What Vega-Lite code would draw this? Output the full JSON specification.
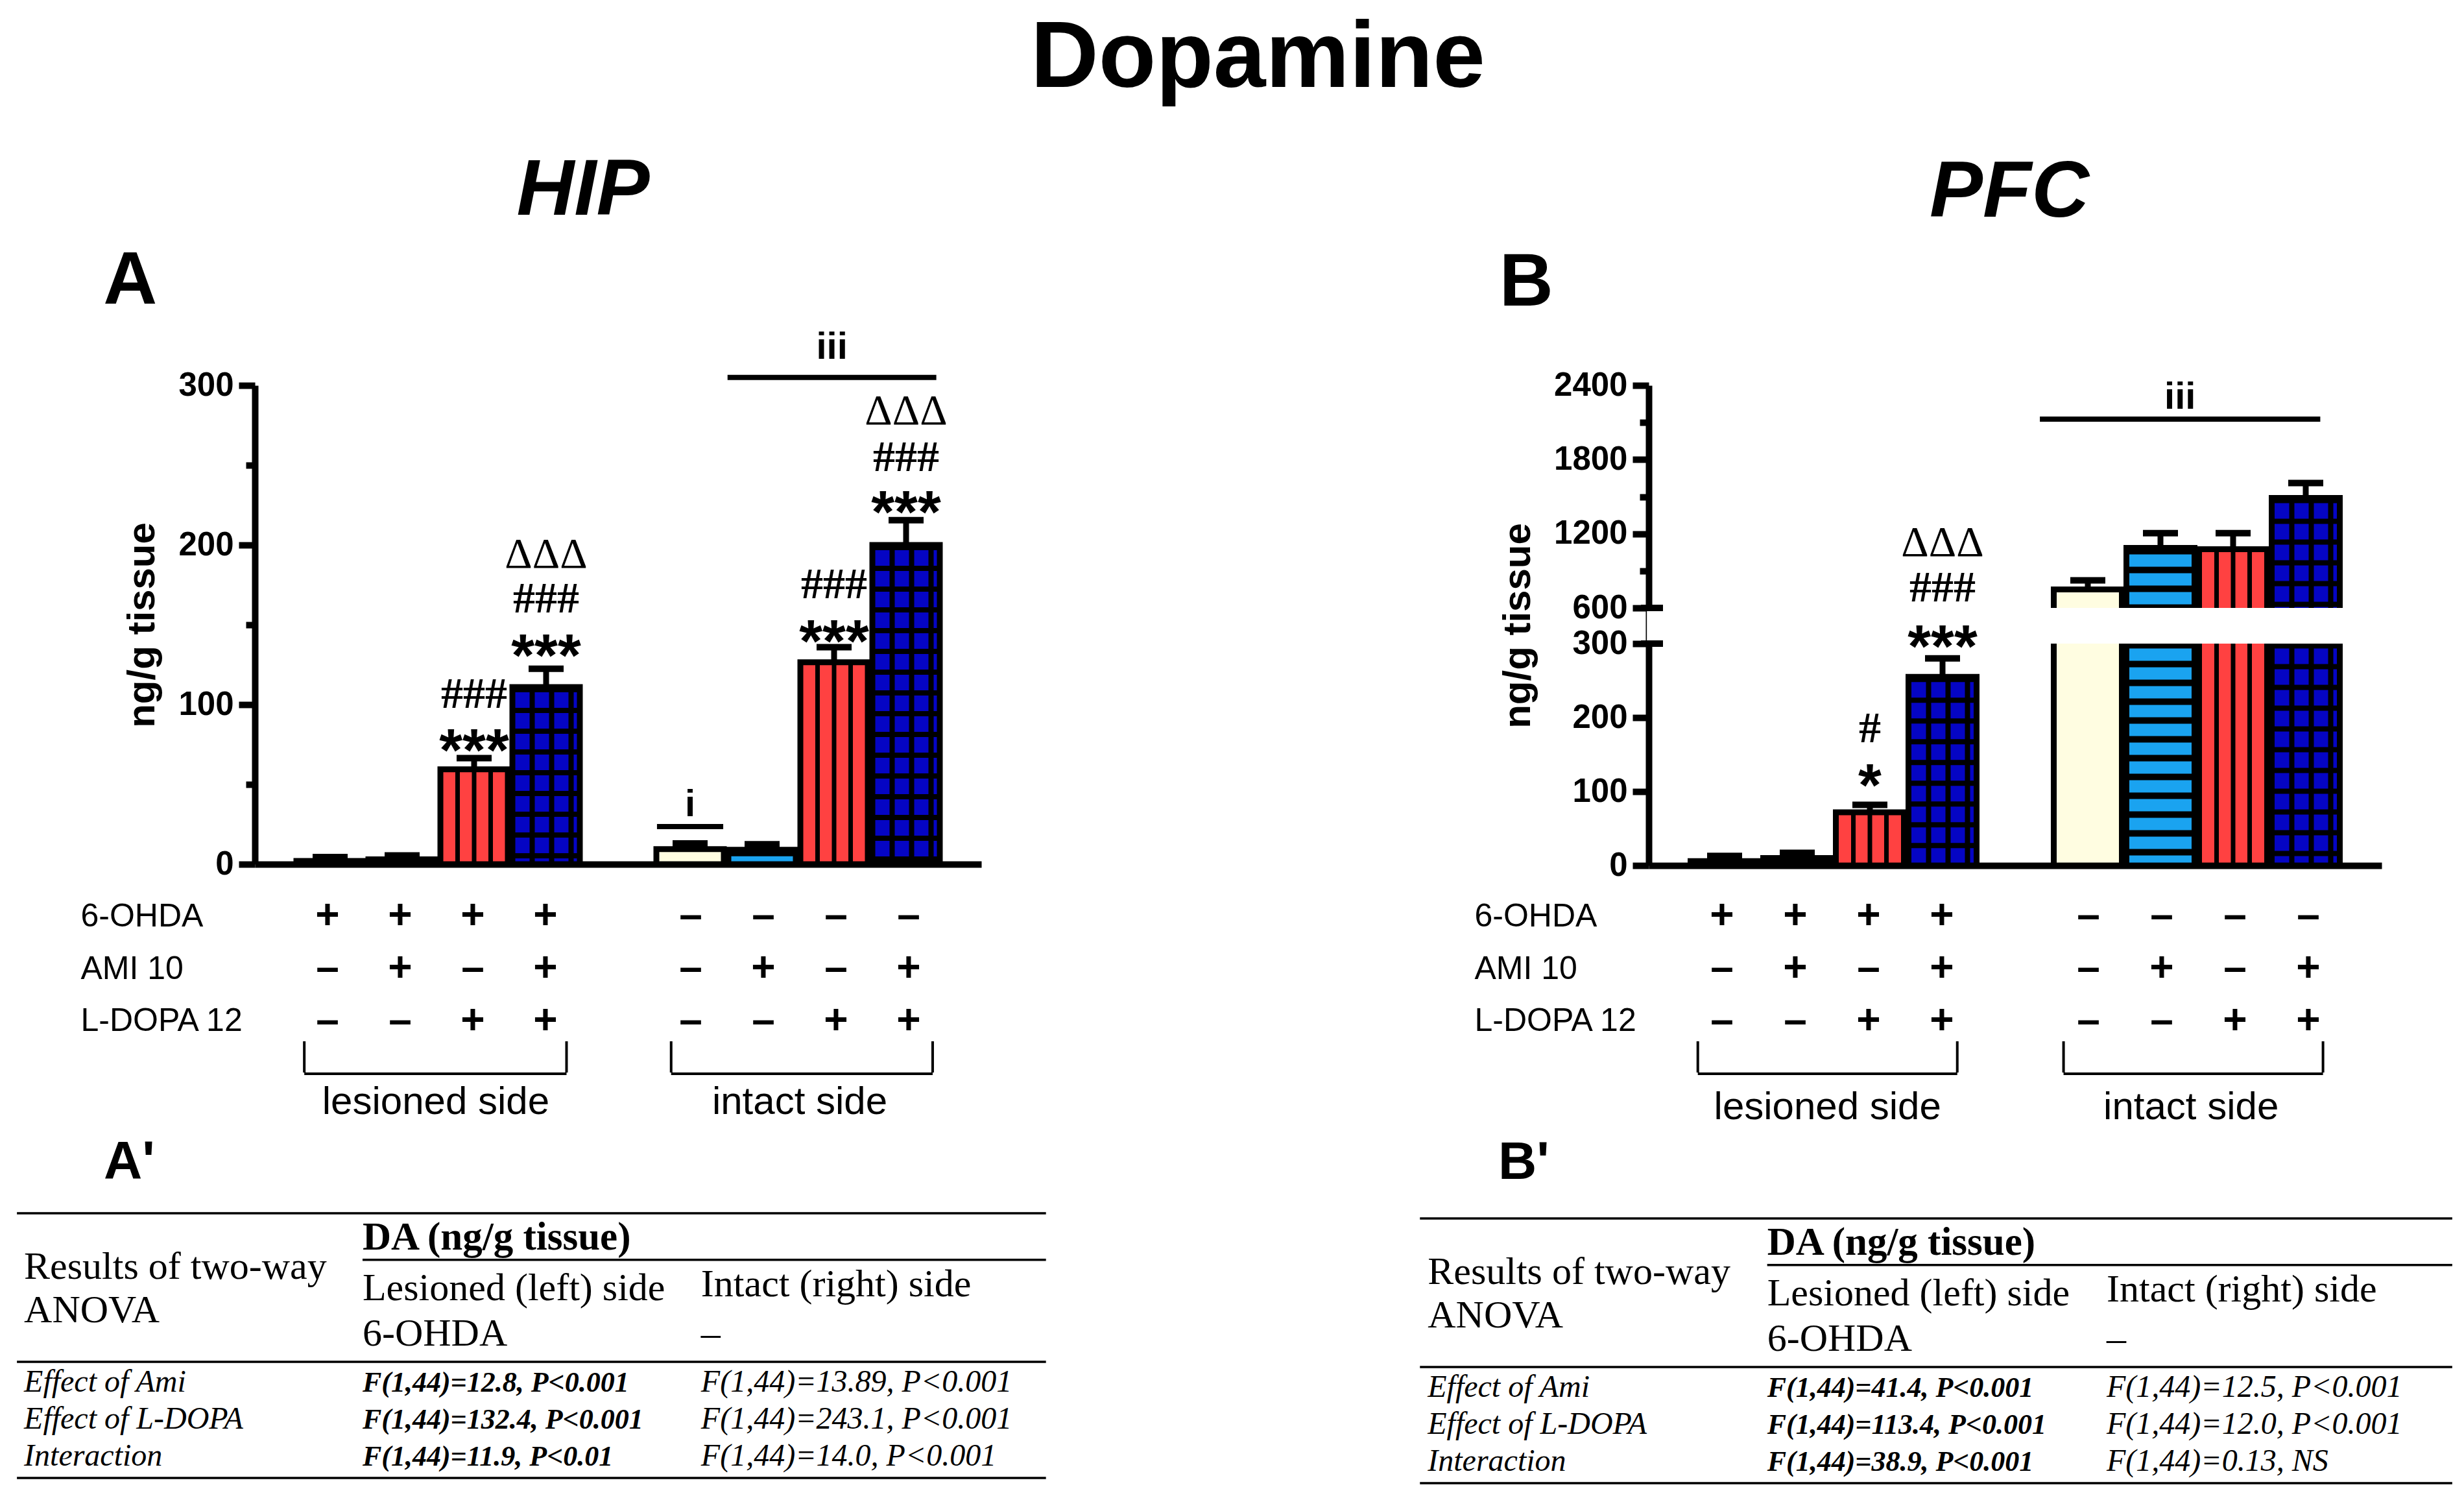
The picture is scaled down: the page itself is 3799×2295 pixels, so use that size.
{
  "$schema": "https://vega.github.io/schema/vega-lite/v6.json",
  "background": "white",
  "padding": {"left": 24, "top": 18, "right": 10, "bottom": 10},
  "title": {"text": "Dopamine", "font": "Liberation Sans", "fontSize": 145, "fontWeight": "bold", "color": "black", "anchor": "middle", "frame": "bounds", "dx": 36, "offset": 69},
  "config": {
    "view": {"stroke": null},
    "axis": {"labelColor": "black", "tickColor": "black", "domainColor": "black", "titleColor": "black", "grid": false}
  },
  "datasets": {
    "bars": [
      {"region": "HIP", "slot": 0, "treat": "Vehicle", "6-OHDA": "+", "AMI 10": "–", "L-DOPA 12": "–", "value": 2, "cap": 4.5},
      {"region": "HIP", "slot": 1, "treat": "AMI", "6-OHDA": "+", "AMI 10": "+", "L-DOPA 12": "–", "value": 3, "cap": 5.5},
      {"region": "HIP", "slot": 2, "treat": "L-DOPA", "6-OHDA": "+", "AMI 10": "–", "L-DOPA 12": "+", "value": 59.5, "cap": 66.5},
      {"region": "HIP", "slot": 3, "treat": "AMI + L-DOPA", "6-OHDA": "+", "AMI 10": "+", "L-DOPA 12": "+", "value": 111, "cap": 122.5},
      {"region": "HIP", "slot": 5, "treat": "Vehicle", "6-OHDA": "–", "AMI 10": "–", "L-DOPA 12": "–", "value": 9.5, "cap": 13},
      {"region": "HIP", "slot": 6, "treat": "AMI", "6-OHDA": "–", "AMI 10": "+", "L-DOPA 12": "–", "value": 9, "cap": 12.5},
      {"region": "HIP", "slot": 7, "treat": "L-DOPA", "6-OHDA": "–", "AMI 10": "–", "L-DOPA 12": "+", "value": 126.5, "cap": 136},
      {"region": "HIP", "slot": 8, "treat": "AMI + L-DOPA", "6-OHDA": "–", "AMI 10": "+", "L-DOPA 12": "+", "value": 200, "cap": 215.5},
      {"region": "PFC", "slot": 0, "treat": "Vehicle", "6-OHDA": "+", "AMI 10": "–", "L-DOPA 12": "–", "value": 6, "cap": 13},
      {"region": "PFC", "slot": 1, "treat": "AMI", "6-OHDA": "+", "AMI 10": "+", "L-DOPA 12": "–", "value": 10, "cap": 17},
      {"region": "PFC", "slot": 2, "treat": "L-DOPA", "6-OHDA": "+", "AMI 10": "–", "L-DOPA 12": "+", "value": 72, "cap": 82},
      {"region": "PFC", "slot": 3, "treat": "AMI + L-DOPA", "6-OHDA": "+", "AMI 10": "+", "L-DOPA 12": "+", "value": 255, "cap": 280},
      {"region": "PFC", "slot": 5, "treat": "Vehicle", "6-OHDA": "–", "AMI 10": "–", "L-DOPA 12": "–", "value": 750, "cap": 823},
      {"region": "PFC", "slot": 6, "treat": "AMI", "6-OHDA": "–", "AMI 10": "+", "L-DOPA 12": "–", "value": 1085, "cap": 1205},
      {"region": "PFC", "slot": 7, "treat": "L-DOPA", "6-OHDA": "–", "AMI 10": "–", "L-DOPA 12": "+", "value": 1075, "cap": 1205},
      {"region": "PFC", "slot": 8, "treat": "AMI + L-DOPA", "6-OHDA": "–", "AMI 10": "+", "L-DOPA 12": "+", "value": 1490, "cap": 1610}
    ],
    "signif": [
      {"region": "HIP", "slot": 2, "kind": "star", "label": "***", "level": 74},
      {"region": "HIP", "slot": 2, "kind": "hash", "label": "###", "level": 103},
      {"region": "HIP", "slot": 3, "kind": "star", "label": "***", "level": 133.5},
      {"region": "HIP", "slot": 3, "kind": "hash", "label": "###", "level": 162.7},
      {"region": "HIP", "slot": 3, "kind": "delta", "label": "ΔΔΔ", "level": 190.8},
      {"region": "HIP", "slot": 7, "kind": "star", "label": "***", "level": 142.4},
      {"region": "HIP", "slot": 7, "kind": "hash", "label": "###", "level": 171.6},
      {"region": "HIP", "slot": 8, "kind": "star", "label": "***", "level": 223.3},
      {"region": "HIP", "slot": 8, "kind": "hash", "label": "###", "level": 251.4},
      {"region": "HIP", "slot": 8, "kind": "delta", "label": "ΔΔΔ", "level": 280.6},
      {"region": "PFC", "slot": 2, "kind": "star", "label": "*", "level": 114},
      {"region": "PFC", "slot": 2, "kind": "hash", "label": "#", "level": 177.5},
      {"region": "PFC", "slot": 3, "kind": "star", "label": "***", "level": 311},
      {"region": "PFC", "slot": 3, "kind": "hash", "label": "###", "level": 715},
      {"region": "PFC", "slot": 3, "kind": "delta", "label": "ΔΔΔ", "level": 1084}
    ],
    "sigbars": [
      {"region": "HIP", "label": "i", "x1": 4.54, "x2": 5.46, "mid": 5.0, "level": 23.6, "labelLevel": 34.6},
      {"region": "HIP", "label": "iii", "x1": 5.52, "x2": 8.42, "mid": 6.97, "level": 305, "labelLevel": 321},
      {"region": "PFC", "label": "iii", "x1": 4.34, "x2": 8.2, "mid": 6.27, "level": 2127, "labelLevel": 2268}
    ],
    "brackets": [
      {"region": "HIP", "side": "lesioned side", "x1": -0.32, "x2": 3.29, "mid": 1.49},
      {"region": "HIP", "side": "intact side", "x1": 4.73, "x2": 8.33, "mid": 6.5},
      {"region": "PFC", "side": "lesioned side", "x1": -0.33, "x2": 3.21, "mid": 1.44},
      {"region": "PFC", "side": "intact side", "x1": 4.66, "x2": 8.2, "mid": 6.4}
    ],
    "anova": [
      {"region": "HIP", "col": 1, "line": 0.98, "style": "hb", "text": "DA (ng/g tissue)"},
      {"region": "HIP", "col": 0, "line": 1.78, "style": "h", "text": "Results of two-way"},
      {"region": "HIP", "col": 0, "line": 2.94, "style": "h", "text": "ANOVA"},
      {"region": "HIP", "col": 1, "line": 2.35, "style": "h", "text": "Lesioned (left) side"},
      {"region": "HIP", "col": 1, "line": 3.58, "style": "h", "text": "6-OHDA"},
      {"region": "HIP", "col": 2, "line": 2.24, "style": "h", "text": "Intact (right) side"},
      {"region": "HIP", "col": 2, "line": 3.58, "style": "h", "text": "–"},
      {"region": "HIP", "col": 0, "line": 4.82, "style": "i", "text": "Effect of Ami"},
      {"region": "HIP", "col": 0, "line": 5.82, "style": "i", "text": "Effect of L-DOPA"},
      {"region": "HIP", "col": 0, "line": 6.82, "style": "i", "text": "Interaction"},
      {"region": "HIP", "col": 1, "line": 4.82, "style": "bi", "text": "F(1,44)=12.8, P<0.001"},
      {"region": "HIP", "col": 1, "line": 5.82, "style": "bi", "text": "F(1,44)=132.4, P<0.001"},
      {"region": "HIP", "col": 1, "line": 6.82, "style": "bi", "text": "F(1,44)=11.9, P<0.01"},
      {"region": "HIP", "col": 2, "line": 4.82, "style": "i", "text": "F(1,44)=13.89, P<0.001"},
      {"region": "HIP", "col": 2, "line": 5.82, "style": "i", "text": "F(1,44)=243.1, P<0.001"},
      {"region": "HIP", "col": 2, "line": 6.82, "style": "i", "text": "F(1,44)=14.0, P<0.001"},
      {"region": "PFC", "col": 1, "line": 0.98, "style": "hb", "text": "DA (ng/g tissue)"},
      {"region": "PFC", "col": 0, "line": 1.78, "style": "h", "text": "Results of two-way"},
      {"region": "PFC", "col": 0, "line": 2.94, "style": "h", "text": "ANOVA"},
      {"region": "PFC", "col": 1, "line": 2.35, "style": "h", "text": "Lesioned (left) side"},
      {"region": "PFC", "col": 1, "line": 3.58, "style": "h", "text": "6-OHDA"},
      {"region": "PFC", "col": 2, "line": 2.24, "style": "h", "text": "Intact (right) side"},
      {"region": "PFC", "col": 2, "line": 3.58, "style": "h", "text": "–"},
      {"region": "PFC", "col": 0, "line": 4.82, "style": "i", "text": "Effect of Ami"},
      {"region": "PFC", "col": 0, "line": 5.82, "style": "i", "text": "Effect of L-DOPA"},
      {"region": "PFC", "col": 0, "line": 6.82, "style": "i", "text": "Interaction"},
      {"region": "PFC", "col": 1, "line": 4.82, "style": "bi", "text": "F(1,44)=41.4, P<0.001"},
      {"region": "PFC", "col": 1, "line": 5.82, "style": "bi", "text": "F(1,44)=113.4, P<0.001"},
      {"region": "PFC", "col": 1, "line": 6.82, "style": "bi", "text": "F(1,44)=38.9, P<0.001"},
      {"region": "PFC", "col": 2, "line": 4.82, "style": "i", "text": "F(1,44)=12.5, P<0.001"},
      {"region": "PFC", "col": 2, "line": 5.82, "style": "i", "text": "F(1,44)=12.0, P<0.001"},
      {"region": "PFC", "col": 2, "line": 6.82, "style": "i", "text": "F(1,44)=0.13, NS"}
    ]
  },
  "columns": 2,
  "bounds": "flush",
  "align": "each",
  "spacing": {"row": 0, "column": 1029},
  "concat": [
    {
      "width": 1120, "height": 738,
      "title": {"text": "HIP", "font": "Liberation Sans", "fontSize": 123, "fontWeight": "bold", "fontStyle": "italic", "color": "black", "anchor": "middle", "frame": "group", "dx": -54, "offset": 19},
      "layer": [
        {
          "data": {"name": "bars"},
          "transform": [{"filter": "datum.region === 'HIP'"}],
          "mark": {"type": "bar", "orient": "vertical", "width": 104, "stroke": "black", "strokeWidth": 9},
          "encoding": {
            "x": {"field": "slot", "type": "quantitative", "scale": {"domain": [-1, 9], "nice": false, "zero": false}, "axis": {"domain": true, "domainWidth": 10, "ticks": false, "labels": false, "grid": false, "title": null}},
            "y": {"field": "value", "type": "quantitative", "scale": {"domain": [0, 300], "nice": false, "zero": false},
              "axis": {"values": [0, 50, 100, 150, 200, 250, 300], "format": "d", "labelExpr": "datum.value % 100 === 0 ? datum.label : ''", "domainWidth": 10, "tickWidth": 10, "tickSize": {"condition": {"test": "datum.value % 100 === 0", "value": 25}, "value": 14}, "labelFont": "Liberation Sans", "labelFontSize": 51, "labelFontWeight": "bold", "labelPadding": 8, "title": "ng/g tissue", "titleFont": "Liberation Sans", "titleFontSize": 60, "titleFontWeight": "bold", "titlePadding": 24}},
            "fill": {"field": "treat", "type": "nominal", "scale": {"domain": ["Vehicle", "AMI", "L-DOPA", "AMI + L-DOPA"], "range": ["#FFFDE1", "#1AA3F0", "#FF4141", "#0505C4"]}, "legend": null}
          }
        },
        {"data": {"name": "bars"}, "transform": [{"filter": "datum.region === 'HIP' && datum.treat === 'L-DOPA'"}], "mark": {"type": "rule", "color": "black", "strokeWidth": 7, "xOffset": -25.5}, "encoding": {"x": {"field": "slot", "type": "quantitative"}, "y": {"field": "value", "type": "quantitative"}, "y2": {"datum": 0}}},
        {"data": {"name": "bars"}, "transform": [{"filter": "datum.region === 'HIP' && datum.treat === 'L-DOPA'"}], "mark": {"type": "rule", "color": "black", "strokeWidth": 7, "xOffset": 0}, "encoding": {"x": {"field": "slot", "type": "quantitative"}, "y": {"field": "value", "type": "quantitative"}, "y2": {"datum": 0}}},
        {"data": {"name": "bars"}, "transform": [{"filter": "datum.region === 'HIP' && datum.treat === 'L-DOPA'"}], "mark": {"type": "rule", "color": "black", "strokeWidth": 7, "xOffset": 25.5}, "encoding": {"x": {"field": "slot", "type": "quantitative"}, "y": {"field": "value", "type": "quantitative"}, "y2": {"datum": 0}}},
        {"data": {"name": "bars"}, "transform": [{"filter": "datum.region === 'HIP' && datum.treat === 'AMI + L-DOPA'"}], "mark": {"type": "rule", "color": "black", "strokeWidth": 8, "xOffset": -21.5}, "encoding": {"x": {"field": "slot", "type": "quantitative"}, "y": {"field": "value", "type": "quantitative"}, "y2": {"datum": 0}}},
        {"data": {"name": "bars"}, "transform": [{"filter": "datum.region === 'HIP' && datum.treat === 'AMI + L-DOPA'"}], "mark": {"type": "rule", "color": "black", "strokeWidth": 8, "xOffset": 8.5}, "encoding": {"x": {"field": "slot", "type": "quantitative"}, "y": {"field": "value", "type": "quantitative"}, "y2": {"datum": 0}}},
        {"data": {"name": "bars"}, "transform": [{"filter": "datum.region === 'HIP' && datum.treat === 'AMI + L-DOPA'"}], "mark": {"type": "rule", "color": "black", "strokeWidth": 8, "xOffset": 38.5}, "encoding": {"x": {"field": "slot", "type": "quantitative"}, "y": {"field": "value", "type": "quantitative"}, "y2": {"datum": 0}}},
        {"data": {"name": "bars"}, "transform": [{"filter": "datum.region === 'HIP' && datum.treat === 'AMI'"}], "mark": {"type": "rule", "color": "black", "strokeWidth": 96, "strokeCap": "butt", "strokeDash": [10, 19]}, "encoding": {"x": {"field": "slot", "type": "quantitative"}, "y": {"field": "value", "type": "quantitative"}, "y2": {"datum": 0}}},
        {"data": {"name": "bars"}, "transform": [{"filter": "datum.region === 'HIP' && datum.treat === 'AMI + L-DOPA'"}], "mark": {"type": "rule", "color": "black", "strokeWidth": 96, "strokeCap": "butt", "strokeDash": [8, 24]}, "encoding": {"x": {"field": "slot", "type": "quantitative"}, "y": {"field": "value", "type": "quantitative"}, "y2": {"datum": 0}}},
        {"data": {"name": "bars"}, "transform": [{"filter": "datum.region === 'HIP'"}], "mark": {"type": "rule", "color": "black", "strokeWidth": 9}, "encoding": {"x": {"field": "slot", "type": "quantitative"}, "y": {"field": "value", "type": "quantitative"}, "y2": {"field": "cap"}}},
        {"data": {"name": "bars"}, "transform": [{"filter": "datum.region === 'HIP'"}], "mark": {"type": "tick", "orient": "horizontal", "size": 54, "thickness": 10, "color": "black", "opacity": 1}, "encoding": {"x": {"field": "slot", "type": "quantitative"}, "y": {"field": "cap", "type": "quantitative"}}},
        {"data": {"name": "signif"}, "transform": [{"filter": "datum.region === 'HIP' && datum.kind === 'star'"}], "mark": {"type": "text", "font": "Liberation Sans", "fontWeight": "bold", "fontSize": 92, "color": "black", "baseline": "alphabetic", "dy": 38}, "encoding": {"x": {"field": "slot", "type": "quantitative"}, "y": {"field": "level", "type": "quantitative"}, "text": {"field": "label"}}},
        {"data": {"name": "signif"}, "transform": [{"filter": "datum.region === 'HIP' && datum.kind === 'hash'"}], "mark": {"type": "text", "font": "Liberation Serif", "fontWeight": "bold", "fontSize": 68, "color": "black", "baseline": "alphabetic", "dy": 12}, "encoding": {"x": {"field": "slot", "type": "quantitative"}, "y": {"field": "level", "type": "quantitative"}, "text": {"field": "label"}}},
        {"data": {"name": "signif"}, "transform": [{"filter": "datum.region === 'HIP' && datum.kind === 'delta'"}], "mark": {"type": "text", "font": "Liberation Serif", "fontSize": 66, "color": "black", "baseline": "alphabetic", "dy": 12}, "encoding": {"x": {"field": "slot", "type": "quantitative"}, "y": {"field": "level", "type": "quantitative"}, "text": {"field": "label"}}},
        {"data": {"name": "sigbars"}, "transform": [{"filter": "datum.region === 'HIP'"}], "mark": {"type": "rule", "color": "black", "strokeWidth": 8}, "encoding": {"x": {"field": "x1", "type": "quantitative"}, "x2": {"field": "x2"}, "y": {"field": "level", "type": "quantitative"}}},
        {"data": {"name": "sigbars"}, "transform": [{"filter": "datum.region === 'HIP'"}], "mark": {"type": "text", "font": "Liberation Sans", "fontWeight": "bold", "fontSize": 58, "color": "black", "baseline": "alphabetic", "dy": 11}, "encoding": {"x": {"field": "mid", "type": "quantitative"}, "y": {"field": "labelLevel", "type": "quantitative"}, "text": {"field": "label"}}},
        {"data": {"values": [{"panel": "A"}]}, "mark": {"type": "text", "font": "Liberation Sans", "fontWeight": "bold", "fontSize": 115, "color": "black", "align": "left", "baseline": "alphabetic"}, "encoding": {"x": {"datum": -3.15, "type": "quantitative"}, "y": {"datum": 351.2, "type": "quantitative"}, "text": {"field": "panel"}}}
      ]
    },
    {
      "width": 1130, "height": 740,
      "title": {"text": "PFC", "font": "Liberation Sans", "fontSize": 123, "fontWeight": "bold", "fontStyle": "italic", "color": "black", "anchor": "middle", "frame": "group", "dx": -9, "offset": 19},
      "layer": [
        {
          "data": {"name": "bars"},
          "transform": [{"filter": "datum.region === 'PFC'"}],
          "mark": {"type": "bar", "orient": "vertical", "width": 105, "stroke": "black", "strokeWidth": 9},
          "encoding": {
            "x": {"field": "slot", "type": "quantitative", "scale": {"domain": [-1, 9], "nice": false, "zero": false}, "axis": {"domain": true, "domainWidth": 10, "ticks": false, "labels": false, "grid": false, "title": null}},
            "y": {"field": "value", "type": "quantitative", "scale": {"domain": [0, 300, 600, 2400], "range": [740, 398, 343, 0], "nice": false, "zero": false},
              "axis": {"values": [0, 100, 200, 300, 600, 900, 1200, 1500, 1800, 2100, 2400], "format": "d", "labelExpr": "(datum.value === 900 || datum.value === 1500 || datum.value === 2100) ? '' : datum.label", "domainWidth": 10, "tickWidth": 10, "tickSize": {"condition": {"test": "datum.value === 900 || datum.value === 1500 || datum.value === 2100", "value": 14}, "value": 25}, "labelFont": "Liberation Sans", "labelFontSize": 51, "labelFontWeight": "bold", "labelPadding": 8, "title": "ng/g tissue", "titleFont": "Liberation Sans", "titleFontSize": 60, "titleFontWeight": "bold", "titlePadding": 24}},
            "fill": {"field": "treat", "type": "nominal", "scale": {"domain": ["Vehicle", "AMI", "L-DOPA", "AMI + L-DOPA"], "range": ["#FFFDE1", "#1AA3F0", "#FF4141", "#0505C4"]}, "legend": null}
          }
        },
        {"data": {"name": "bars"}, "transform": [{"filter": "datum.region === 'PFC' && datum.treat === 'L-DOPA'"}], "mark": {"type": "rule", "color": "black", "strokeWidth": 7, "xOffset": -25.5}, "encoding": {"x": {"field": "slot", "type": "quantitative"}, "y": {"field": "value", "type": "quantitative"}, "y2": {"datum": 0}}},
        {"data": {"name": "bars"}, "transform": [{"filter": "datum.region === 'PFC' && datum.treat === 'L-DOPA'"}], "mark": {"type": "rule", "color": "black", "strokeWidth": 7, "xOffset": 0}, "encoding": {"x": {"field": "slot", "type": "quantitative"}, "y": {"field": "value", "type": "quantitative"}, "y2": {"datum": 0}}},
        {"data": {"name": "bars"}, "transform": [{"filter": "datum.region === 'PFC' && datum.treat === 'L-DOPA'"}], "mark": {"type": "rule", "color": "black", "strokeWidth": 7, "xOffset": 25.5}, "encoding": {"x": {"field": "slot", "type": "quantitative"}, "y": {"field": "value", "type": "quantitative"}, "y2": {"datum": 0}}},
        {"data": {"name": "bars"}, "transform": [{"filter": "datum.region === 'PFC' && datum.treat === 'AMI + L-DOPA'"}], "mark": {"type": "rule", "color": "black", "strokeWidth": 8, "xOffset": -21.5}, "encoding": {"x": {"field": "slot", "type": "quantitative"}, "y": {"field": "value", "type": "quantitative"}, "y2": {"datum": 0}}},
        {"data": {"name": "bars"}, "transform": [{"filter": "datum.region === 'PFC' && datum.treat === 'AMI + L-DOPA'"}], "mark": {"type": "rule", "color": "black", "strokeWidth": 8, "xOffset": 8.5}, "encoding": {"x": {"field": "slot", "type": "quantitative"}, "y": {"field": "value", "type": "quantitative"}, "y2": {"datum": 0}}},
        {"data": {"name": "bars"}, "transform": [{"filter": "datum.region === 'PFC' && datum.treat === 'AMI + L-DOPA'"}], "mark": {"type": "rule", "color": "black", "strokeWidth": 8, "xOffset": 38.5}, "encoding": {"x": {"field": "slot", "type": "quantitative"}, "y": {"field": "value", "type": "quantitative"}, "y2": {"datum": 0}}},
        {"data": {"name": "bars"}, "transform": [{"filter": "datum.region === 'PFC' && datum.treat === 'AMI'"}], "mark": {"type": "rule", "color": "black", "strokeWidth": 96, "strokeCap": "butt", "strokeDash": [10, 19]}, "encoding": {"x": {"field": "slot", "type": "quantitative"}, "y": {"field": "value", "type": "quantitative"}, "y2": {"datum": 0}}},
        {"data": {"name": "bars"}, "transform": [{"filter": "datum.region === 'PFC' && datum.treat === 'AMI + L-DOPA'"}], "mark": {"type": "rule", "color": "black", "strokeWidth": 96, "strokeCap": "butt", "strokeDash": [8, 24]}, "encoding": {"x": {"field": "slot", "type": "quantitative"}, "y": {"field": "value", "type": "quantitative"}, "y2": {"datum": 0}}},
        {"data": {"name": "bars"}, "transform": [{"filter": "datum.region === 'PFC'"}], "mark": {"type": "rule", "color": "black", "strokeWidth": 9}, "encoding": {"x": {"field": "slot", "type": "quantitative"}, "y": {"field": "value", "type": "quantitative"}, "y2": {"field": "cap"}}},
        {"data": {"name": "bars"}, "transform": [{"filter": "datum.region === 'PFC'"}], "mark": {"type": "tick", "orient": "horizontal", "size": 54, "thickness": 10, "color": "black", "opacity": 1}, "encoding": {"x": {"field": "slot", "type": "quantitative"}, "y": {"field": "cap", "type": "quantitative"}}},
        {"data": {"values": [{"from": 300, "to": 600}]}, "mark": {"type": "rect", "fill": "white"}, "encoding": {"x": {"datum": -1.07, "type": "quantitative"}, "x2": {"datum": 8.8}, "y": {"field": "from", "type": "quantitative"}, "y2": {"field": "to"}}},
        {"data": {"values": [{"brk": 300}, {"brk": 600}]}, "mark": {"type": "tick", "orient": "horizontal", "size": 34, "thickness": 10, "color": "black", "opacity": 1}, "encoding": {"x": {"datum": -1, "type": "quantitative"}, "y": {"field": "brk", "type": "quantitative"}}},
        {"data": {"name": "signif"}, "transform": [{"filter": "datum.region === 'PFC' && datum.kind === 'star'"}], "mark": {"type": "text", "font": "Liberation Sans", "fontWeight": "bold", "fontSize": 92, "color": "black", "baseline": "alphabetic", "dy": 38}, "encoding": {"x": {"field": "slot", "type": "quantitative"}, "y": {"field": "level", "type": "quantitative"}, "text": {"field": "label"}}},
        {"data": {"name": "signif"}, "transform": [{"filter": "datum.region === 'PFC' && datum.kind === 'hash'"}], "mark": {"type": "text", "font": "Liberation Serif", "fontWeight": "bold", "fontSize": 68, "color": "black", "baseline": "alphabetic", "dy": 12}, "encoding": {"x": {"field": "slot", "type": "quantitative"}, "y": {"field": "level", "type": "quantitative"}, "text": {"field": "label"}}},
        {"data": {"name": "signif"}, "transform": [{"filter": "datum.region === 'PFC' && datum.kind === 'delta'"}], "mark": {"type": "text", "font": "Liberation Serif", "fontSize": 66, "color": "black", "baseline": "alphabetic", "dy": 12}, "encoding": {"x": {"field": "slot", "type": "quantitative"}, "y": {"field": "level", "type": "quantitative"}, "text": {"field": "label"}}},
        {"data": {"name": "sigbars"}, "transform": [{"filter": "datum.region === 'PFC'"}], "mark": {"type": "rule", "color": "black", "strokeWidth": 8}, "encoding": {"x": {"field": "x1", "type": "quantitative"}, "x2": {"field": "x2"}, "y": {"field": "level", "type": "quantitative"}}},
        {"data": {"name": "sigbars"}, "transform": [{"filter": "datum.region === 'PFC'"}], "mark": {"type": "text", "font": "Liberation Sans", "fontWeight": "bold", "fontSize": 58, "color": "black", "baseline": "alphabetic", "dy": 11}, "encoding": {"x": {"field": "mid", "type": "quantitative"}, "y": {"field": "labelLevel", "type": "quantitative"}, "text": {"field": "label"}}},
        {"data": {"values": [{"panel": "B"}]}, "mark": {"type": "text", "font": "Liberation Sans", "fontWeight": "bold", "fontSize": 115, "color": "black", "align": "left", "baseline": "alphabetic"}, "encoding": {"x": {"datum": -3.1, "type": "quantitative"}, "y": {"datum": 3045, "type": "quantitative"}, "text": {"field": "panel"}}}
      ]
    },
    {
      "width": 1120, "height": 318,
      "data": {"name": "bars"},
      "transform": [{"filter": "datum.region === 'HIP'"}, {"fold": ["6-OHDA", "AMI 10", "L-DOPA 12"], "as": ["treatment", "sign"]}],
      "mark": {"type": "text", "font": "Liberation Sans", "fontWeight": "bold", "fontSize": 64, "color": "black", "baseline": "middle"},
      "encoding": {
        "x": {"field": "slot", "type": "quantitative", "scale": {"domain": [-1, 9], "nice": false, "zero": false}, "axis": null},
        "y": {"field": "treatment", "type": "nominal", "scale": {"type": "point", "domain": ["6-OHDA", "AMI 10", "L-DOPA 12"], "padding": 0.963}, "axis": {"domain": false, "ticks": false, "tickSize": 0, "labelAlign": "left", "labelBaseline": "middle", "labelPadding": 269, "labelLimit": 0, "labelFont": "Liberation Sans", "labelFontSize": 50, "title": null}},
        "text": {"field": "sign"}
      }
    },
    {
      "width": 1130, "height": 318,
      "data": {"name": "bars"},
      "transform": [{"filter": "datum.region === 'PFC'"}, {"fold": ["6-OHDA", "AMI 10", "L-DOPA 12"], "as": ["treatment", "sign"]}],
      "mark": {"type": "text", "font": "Liberation Sans", "fontWeight": "bold", "fontSize": 64, "color": "black", "baseline": "middle"},
      "encoding": {
        "x": {"field": "slot", "type": "quantitative", "scale": {"domain": [-1, 9], "nice": false, "zero": false}, "axis": null},
        "y": {"field": "treatment", "type": "nominal", "scale": {"type": "point", "domain": ["6-OHDA", "AMI 10", "L-DOPA 12"], "padding": 0.963}, "axis": {"domain": false, "ticks": false, "tickSize": 0, "labelAlign": "left", "labelBaseline": "middle", "labelPadding": 269, "labelLimit": 0, "labelFont": "Liberation Sans", "labelFontSize": 50, "title": null}},
        "text": {"field": "sign"}
      }
    },
    {
      "width": 1120, "height": 218,
      "data": {"name": "brackets"},
      "transform": [{"filter": "datum.region === 'HIP'"}],
      "layer": [
        {"mark": {"type": "rule", "color": "black", "strokeWidth": 4}, "encoding": {"x": {"field": "x1", "type": "quantitative", "scale": {"domain": [-1, 9], "nice": false, "zero": false}, "axis": null}, "x2": {"field": "x2"}, "y": {"datum": 0.986, "type": "quantitative", "scale": {"domain": [0, 1], "nice": false, "zero": false}, "axis": null}}},
        {"mark": {"type": "rule", "color": "black", "strokeWidth": 4}, "encoding": {"x": {"field": "x1", "type": "quantitative"}, "y": {"datum": 0.995, "type": "quantitative"}, "y2": {"datum": 1.216}}},
        {"mark": {"type": "rule", "color": "black", "strokeWidth": 4}, "encoding": {"x": {"field": "x2", "type": "quantitative"}, "y": {"datum": 0.995, "type": "quantitative"}, "y2": {"datum": 1.216}}},
        {"mark": {"type": "text", "font": "Liberation Sans", "fontSize": 60, "color": "black", "baseline": "alphabetic"}, "encoding": {"x": {"field": "mid", "type": "quantitative"}, "y": {"datum": 0.7, "type": "quantitative"}, "text": {"field": "side"}}}
      ]
    },
    {
      "width": 1130, "height": 218,
      "data": {"name": "brackets"},
      "transform": [{"filter": "datum.region === 'PFC'"}],
      "layer": [
        {"mark": {"type": "rule", "color": "black", "strokeWidth": 4}, "encoding": {"x": {"field": "x1", "type": "quantitative", "scale": {"domain": [-1, 9], "nice": false, "zero": false}, "axis": null}, "x2": {"field": "x2"}, "y": {"datum": 0.986, "type": "quantitative", "scale": {"domain": [0, 1], "nice": false, "zero": false}, "axis": null}}},
        {"mark": {"type": "rule", "color": "black", "strokeWidth": 4}, "encoding": {"x": {"field": "x1", "type": "quantitative"}, "y": {"datum": 0.995, "type": "quantitative"}, "y2": {"datum": 1.216}}},
        {"mark": {"type": "rule", "color": "black", "strokeWidth": 4}, "encoding": {"x": {"field": "x2", "type": "quantitative"}, "y": {"datum": 0.995, "type": "quantitative"}, "y2": {"datum": 1.216}}},
        {"mark": {"type": "text", "font": "Liberation Sans", "fontSize": 60, "color": "black", "baseline": "alphabetic"}, "encoding": {"x": {"field": "mid", "type": "quantitative"}, "y": {"datum": 0.665, "type": "quantitative"}, "text": {"field": "side"}}}
      ]
    },
    {
      "width": 1120, "height": 408,
      "title": {"text": "A'", "font": "Liberation Sans", "fontSize": 82, "fontWeight": "bold", "color": "black", "anchor": "start", "frame": "group", "dx": -233, "offset": 35},
      "layer": [
        {"data": {"values": [{"line": 0}, {"line": 4.02}, {"line": 7.16}]}, "mark": {"type": "rule", "color": "black", "strokeWidth": 3.5},
         "encoding": {"x": {"datum": -0.021, "type": "quantitative", "scale": {"domain": [0.682, 2.828], "nice": false, "zero": false}, "axis": null}, "x2": {"datum": 3.019}, "y": {"field": "line", "type": "quantitative", "scale": {"domain": [0, 7.16], "reverse": true, "nice": false, "zero": false}, "axis": null}}},
        {"data": {"values": [{"line": 1.26}]}, "mark": {"type": "rule", "color": "black", "strokeWidth": 3.5}, "encoding": {"x": {"datum": 1.0, "type": "quantitative"}, "x2": {"datum": 3.019}, "y": {"field": "line", "type": "quantitative"}}},
        {"data": {"name": "anova"}, "transform": [{"filter": "datum.region === 'HIP' && datum.style === 'h'"}], "mark": {"type": "text", "align": "left", "baseline": "alphabetic", "font": "Liberation Serif", "fontSize": 60, "color": "black"}, "encoding": {"x": {"field": "col", "type": "quantitative"}, "y": {"field": "line", "type": "quantitative"}, "text": {"field": "text"}}},
        {"data": {"name": "anova"}, "transform": [{"filter": "datum.region === 'HIP' && datum.style === 'hb'"}], "mark": {"type": "text", "align": "left", "baseline": "alphabetic", "font": "Liberation Serif", "fontWeight": "bold", "fontSize": 61, "color": "black"}, "encoding": {"x": {"field": "col", "type": "quantitative"}, "y": {"field": "line", "type": "quantitative"}, "text": {"field": "text"}}},
        {"data": {"name": "anova"}, "transform": [{"filter": "datum.region === 'HIP' && datum.style === 'i'"}], "mark": {"type": "text", "align": "left", "baseline": "alphabetic", "font": "Liberation Serif", "fontStyle": "italic", "fontSize": 48, "color": "black"}, "encoding": {"x": {"field": "col", "type": "quantitative"}, "y": {"field": "line", "type": "quantitative"}, "text": {"field": "text"}}},
        {"data": {"name": "anova"}, "transform": [{"filter": "datum.region === 'HIP' && datum.style === 'bi'"}], "mark": {"type": "text", "align": "left", "baseline": "alphabetic", "font": "Liberation Serif", "fontStyle": "italic", "fontWeight": "bold", "fontSize": 44, "color": "black"}, "encoding": {"x": {"field": "col", "type": "quantitative"}, "y": {"field": "line", "type": "quantitative"}, "text": {"field": "text"}}}
      ]
    },
    {
      "width": 1130, "height": 408,
      "title": {"text": "B'", "font": "Liberation Sans", "fontSize": 82, "fontWeight": "bold", "color": "black", "anchor": "start", "frame": "group", "dx": -232, "offset": 36},
      "layer": [
        {"data": {"values": [{"line": 0}, {"line": 4.02}, {"line": 7.16}]}, "mark": {"type": "rule", "color": "black", "strokeWidth": 3.5},
         "encoding": {"x": {"datum": -0.023, "type": "quantitative", "scale": {"domain": [0.651, 2.81], "nice": false, "zero": false}, "axis": null}, "x2": {"datum": 3.018}, "y": {"field": "line", "type": "quantitative", "scale": {"domain": [-0.14, 7.02], "reverse": true, "nice": false, "zero": false}, "axis": null}}},
        {"data": {"values": [{"line": 1.26}]}, "mark": {"type": "rule", "color": "black", "strokeWidth": 3.5}, "encoding": {"x": {"datum": 1.0, "type": "quantitative"}, "x2": {"datum": 3.018}, "y": {"field": "line", "type": "quantitative"}}},
        {"data": {"name": "anova"}, "transform": [{"filter": "datum.region === 'PFC' && datum.style === 'h'"}], "mark": {"type": "text", "align": "left", "baseline": "alphabetic", "font": "Liberation Serif", "fontSize": 60, "color": "black"}, "encoding": {"x": {"field": "col", "type": "quantitative"}, "y": {"field": "line", "type": "quantitative"}, "text": {"field": "text"}}},
        {"data": {"name": "anova"}, "transform": [{"filter": "datum.region === 'PFC' && datum.style === 'hb'"}], "mark": {"type": "text", "align": "left", "baseline": "alphabetic", "font": "Liberation Serif", "fontWeight": "bold", "fontSize": 61, "color": "black"}, "encoding": {"x": {"field": "col", "type": "quantitative"}, "y": {"field": "line", "type": "quantitative"}, "text": {"field": "text"}}},
        {"data": {"name": "anova"}, "transform": [{"filter": "datum.region === 'PFC' && datum.style === 'i'"}], "mark": {"type": "text", "align": "left", "baseline": "alphabetic", "font": "Liberation Serif", "fontStyle": "italic", "fontSize": 48, "color": "black"}, "encoding": {"x": {"field": "col", "type": "quantitative"}, "y": {"field": "line", "type": "quantitative"}, "text": {"field": "text"}}},
        {"data": {"name": "anova"}, "transform": [{"filter": "datum.region === 'PFC' && datum.style === 'bi'"}], "mark": {"type": "text", "align": "left", "baseline": "alphabetic", "font": "Liberation Serif", "fontStyle": "italic", "fontWeight": "bold", "fontSize": 44, "color": "black"}, "encoding": {"x": {"field": "col", "type": "quantitative"}, "y": {"field": "line", "type": "quantitative"}, "text": {"field": "text"}}}
      ]
    }
  ]
}
